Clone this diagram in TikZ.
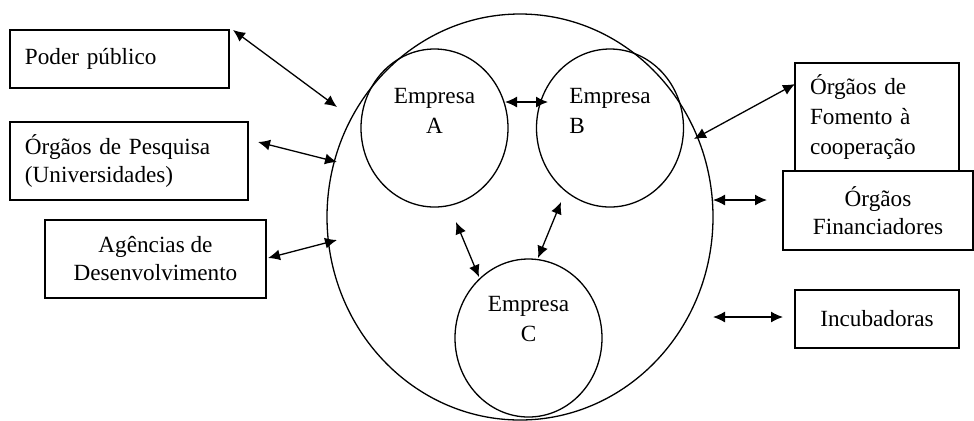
\documentclass[tikz,border=0pt]{standalone}
\usepackage{fontspec}
\setmainfont{Liberation Serif}
\usetikzlibrary{shapes.geometric,arrows.meta}
\begin{document}
\begin{tikzpicture}[x=0.5pt,y=-0.5pt,
  box/.style={draw,line width=0.65pt,rectangle,inner sep=0pt,inner xsep=7.5pt,fill=white,
    font=\fontsize{11.6}{13.7}\selectfont},
  firm/.style={draw,ellipse,line width=0.65pt,inner sep=0pt,minimum width=73.5pt,minimum height=79pt},
  firmtext/.style={inner sep=0pt,font=\fontsize{11.6}{15}\selectfont},
  link/.style={line width=0.65pt,{Latex[length=6pt,width=5.5pt]}-{Latex[length=6pt,width=5.5pt]}}]
\useasboundingbox (0,0) rectangle (974,420);

% main cluster
\node[draw,ellipse,line width=0.65pt,inner sep=0pt,minimum width=193pt,minimum height=203pt] (main) at (520,217) {};
\node[firm] (A) at (434.5,128) {};
\node[firm] (B) at (610,128) {};
\node[firm] (C) at (528.5,338) {};
\node[firmtext,align=center] (tA) at (434.5,110.5) {Empresa\\A};
\node[firmtext,align=left] (tB) at (610,110.5) {Empresa\\B};
\node[firmtext,align=center] (tC) at (528.5,319.5) {Empresa\\C};

% left boxes
\node[box,text width=94.5pt,minimum height=29pt,align=left] (poder) at (119.5,59) {Poder público};
\node[box,text width=104pt,minimum height=39pt,align=left] (pesq) at (129,161) {Órgãos de Pesquisa\\(Universidades)};
\node[box,minimum width=110.5pt,minimum height=39pt,align=center,font=\fontsize{11.6}{14}\selectfont] (agen) at (155.5,259) {Agências de\\Desenvolvimento};

% right boxes
\node[box,text width=67pt,minimum height=54pt,align=left,font=\fontsize{11.6}{15}\selectfont] (fom) at (877,117) {Órgãos de\\Fomento à\\cooperação};
\node[box,minimum width=95pt,minimum height=39.5pt,align=center,font=\fontsize{11.6}{14}\selectfont] (fin) at (878,210.5) {Órgãos\\Financiadores};
\node[box,minimum width=82pt,minimum height=29pt,align=center] (inc) at (877,319) {Incubadoras};

% connector ends
\coordinate (p1) at (233,30);   \coordinate (m1) at (337,107);
\coordinate (p2) at (258,142);  \coordinate (m2) at (337,162);
\coordinate (p3) at (268,258);  \coordinate (m3) at (337,240);
\coordinate (ab1) at (505,102); \coordinate (ab2) at (548,102);
\coordinate (ac1) at (456,222); \coordinate (ac2) at (479,277);
\coordinate (bc1) at (561,202); \coordinate (bc2) at (538,258);
\coordinate (r1) at (795,84);   \coordinate (n1) at (694,139);
\coordinate (r2) at (767,200);  \coordinate (n2) at (713,200);
\coordinate (r3) at (783,317);  \coordinate (n3) at (713,317);

\draw[link] (p1) -- (m1);
\draw[link] (p2) -- (m2);
\draw[link] (p3) -- (m3);
\draw[link] (ab1) -- (ab2);
\draw[link] (ac1) -- (ac2);
\draw[link] (bc1) -- (bc2);
\draw[link] (n1) -- (r1);
\draw[link] (n2) -- (r2);
\draw[link] (n3) -- (r3);
\end{tikzpicture}
\end{document}
